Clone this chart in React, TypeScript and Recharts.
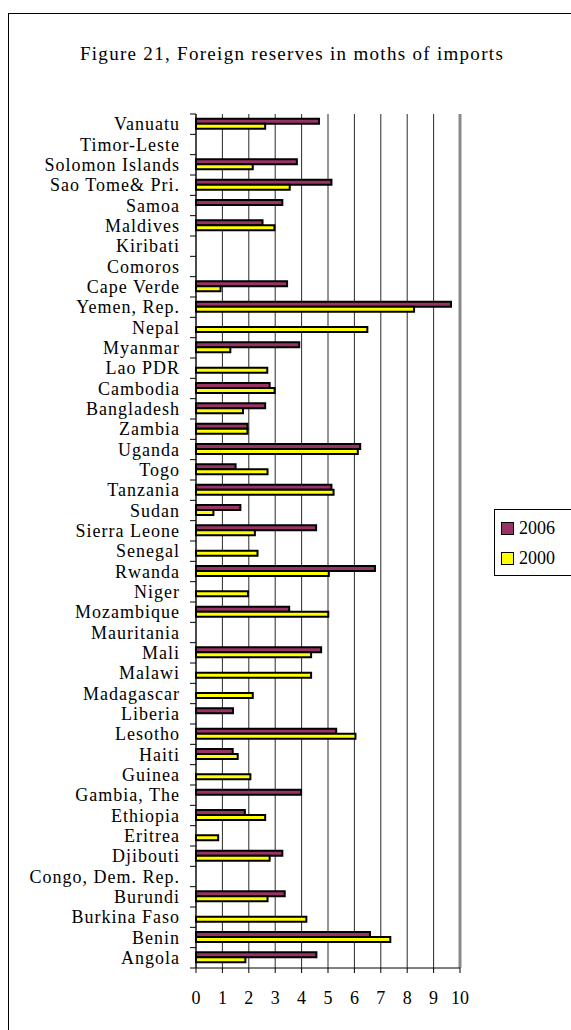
import React from 'react';
import { BarChart, Bar, XAxis, YAxis, CartesianGrid, ReferenceLine, Legend } from 'recharts';

const countries = [
  'Vanuatu', 'Timor-Leste', 'Solomon Islands', 'Sao Tome& Pri.', 'Samoa', 'Maldives', 'Kiribati', 'Comoros',
  'Cape Verde', 'Yemen, Rep.', 'Nepal', 'Myanmar', 'Lao PDR', 'Cambodia', 'Bangladesh', 'Zambia', 'Uganda',
  'Togo', 'Tanzania', 'Sudan', 'Sierra Leone', 'Senegal', 'Rwanda', 'Niger', 'Mozambique', 'Mauritania',
  'Mali', 'Malawi', 'Madagascar', 'Liberia', 'Lesotho', 'Haiti', 'Guinea', 'Gambia, The', 'Ethiopia',
  'Eritrea', 'Djibouti', 'Congo, Dem. Rep.', 'Burundi', 'Burkina Faso', 'Benin', 'Angola',
];

const values2006: (number | null)[] = [
  4.66, null, 3.82, 5.13, 3.27, 2.52, null, null,
  3.45, 9.66, null, 3.91, null, 2.79, 2.62, 1.95, 6.22,
  1.5, 5.13, 1.68, 4.55, null, 6.78, null, 3.53, null,
  4.74, null, null, 1.4, 5.31, 1.39, null, 3.98, 1.85,
  null, 3.27, null, 3.36, null, 6.59, 4.56,
];

const values2000: (number | null)[] = [
  2.62, null, 2.15, 3.55, null, 2.97, null, null,
  0.93, 8.26, 6.49, 1.3, 2.7, 2.98, 1.78, 1.95, 6.13,
  2.71, 5.21, 0.66, 2.23, 2.33, 5.03, 1.97, 5.01, null,
  4.36, 4.36, 2.15, null, 6.04, 1.58, 2.06, null, 2.62,
  0.84, 2.79, null, 2.71, 4.18, 7.36, 1.87,
];

const xTicks = [0, 1, 2, 3, 4, 5, 6, 7, 8, 9, 10];

const seriesNames = ['2006', '2000'];
const seriesColors = ['#993366', '#FFFF00'];

const data = countries.map((c, i) => ({ country: c, v2006: values2006[i], v2000: values2000[i] }));

const W = 571;
const H = 1030;
const PLOT_LEFT = 196;
const PLOT_TOP = 114;
const PLOT_BOTTOM = 968;
const PLOT_RIGHT = 460;
const BAND = (PLOT_BOTTOM - PLOT_TOP) / countries.length;
const FONT = '"Liberation Serif", "Times New Roman", serif';

const YTick = (props: any) => {
  const { y, payload, index } = props;
  return (
    <g>
      <line x1={PLOT_LEFT - 6} x2={PLOT_LEFT} y1={y - BAND / 2} y2={y - BAND / 2} stroke="#000" strokeWidth={1} />
      {index === countries.length - 1 && (
        <line x1={PLOT_LEFT - 6} x2={PLOT_LEFT} y1={y + BAND / 2} y2={y + BAND / 2} stroke="#000" strokeWidth={1} />
      )}
      <text x={180} y={y + 6} textAnchor="end" fontFamily={FONT} fontSize={18} letterSpacing={1} fill="#000">
        {payload.value}
      </text>
    </g>
  );
};

const XTick = (props: any) => {
  const { x, payload } = props;
  return (
    <text x={x} y={1004} textAnchor="middle" fontFamily={FONT} fontSize={18} fill="#000">
      {payload.value}
    </text>
  );
};

const LegendBox = () => (
  <div
    style={{
      position: 'absolute',
      left: 494,
      top: 509,
      width: 90,
      height: 67,
      border: '1px solid #000',
      background: '#fff',
      fontFamily: FONT,
      fontSize: 18,
      boxSizing: 'border-box',
    }}
  >
    {seriesNames.map((n, i) => (
      <div key={n} style={{ position: 'absolute', left: 6, top: 8 + i * 30, height: 20, display: 'flex', alignItems: 'center' }}>
        <div style={{ width: 11, height: 11, background: seriesColors[i], border: '1.5px solid #000', marginRight: 5 }} />
        <span style={{ lineHeight: '20px' }}>{n}</span>
      </div>
    ))}
  </div>
);

export default function App() {
  return (
    <div style={{ position: 'absolute', left: 0, top: 0, width: W, height: H, overflow: 'hidden', background: '#fff' }}>
      <div style={{ position: 'absolute', left: 8, top: 13, width: 700, height: 1200, border: '1px solid #000', boxSizing: 'border-box' }} />
      <div
        style={{
          position: 'absolute',
          left: 0,
          width: 584,
          top: 43,
          textAlign: 'center',
          fontFamily: FONT,
          fontSize: 19,
          letterSpacing: '1.3px',
          color: '#000',
          whiteSpace: 'nowrap',
        }}
      >
        Figure 21, Foreign reserves in moths of imports
      </div>
      <div style={{ position: 'absolute', left: 0, top: 0 }}>
        <BarChart
          width={W}
          height={H}
          data={data}
          layout="vertical"
          margin={{ top: PLOT_TOP, right: W - PLOT_RIGHT, bottom: H - PLOT_BOTTOM - 30, left: 0 }}
          barCategoryGap="23%"
          barGap={0}
        >
          <CartesianGrid horizontal={false} stroke="#2a2a2a" strokeWidth={1} />
          <XAxis
            type="number"
            domain={[0, 10]}
            ticks={xTicks}
            interval={0}
            height={30}
            axisLine={{ stroke: '#000', strokeWidth: 1 }}
            tickLine={{ stroke: '#000', strokeWidth: 1 }}
            tickSize={5}
            tick={<XTick />}
          />
          <XAxis
            xAxisId="top"
            orientation="top"
            type="number"
            domain={[0, 10]}
            height={0}
            tick={false}
            tickLine={false}
            axisLine={{ stroke: '#8a8a8a', strokeWidth: 2 }}
          />
          <YAxis
            type="category"
            dataKey="country"
            width={PLOT_LEFT}
            interval={0}
            axisLine={{ stroke: '#000', strokeWidth: 1 }}
            tickLine={false}
            tick={<YTick />}
          />
          <ReferenceLine x={10} stroke="#8a8a8a" strokeWidth={3} />
          <Bar dataKey="v2006" name="2006" fill={seriesColors[0]} stroke="#000" strokeWidth={2} isAnimationActive={false} />
          <Bar dataKey="v2000" name="2000" fill={seriesColors[1]} stroke="#000" strokeWidth={2} isAnimationActive={false} />
          <Legend content={() => null} />
        </BarChart>
      </div>
      <LegendBox />
    </div>
  );
}
